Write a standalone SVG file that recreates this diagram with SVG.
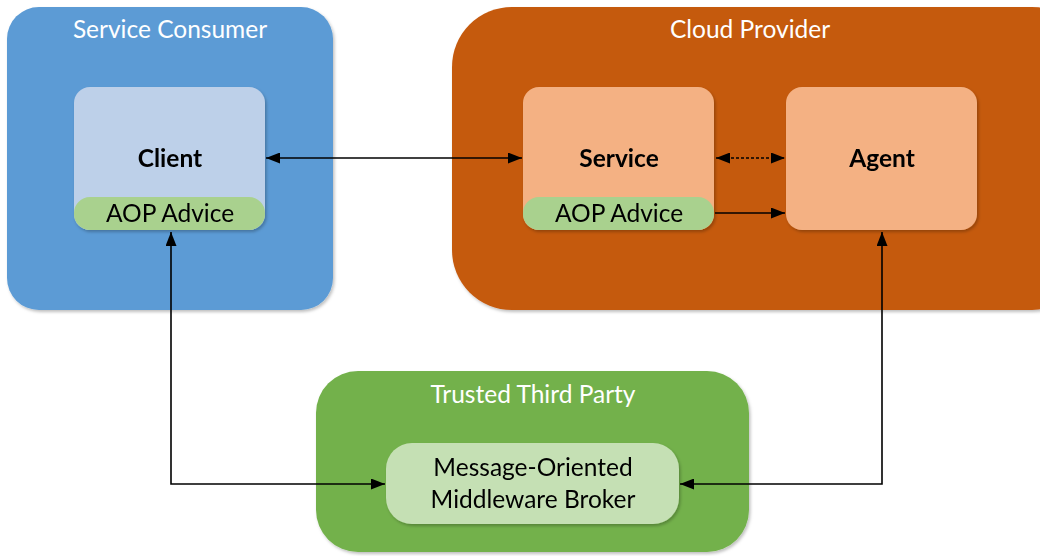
<svg xmlns="http://www.w3.org/2000/svg" width="1040" height="556" viewBox="0 0 1040 556">
  <defs>
    <style>
      .title { font-family: Lato, "Open Sans", "Liberation Sans", sans-serif; font-size: 24.5px; fill: #ffffff; text-anchor: middle; }
      .name { font-family: Lato, "Open Sans", "Liberation Sans", sans-serif; font-size: 24.5px; font-weight: bold; fill: #000000; text-anchor: middle; }
      .label { font-family: Lato, "Open Sans", "Liberation Sans", sans-serif; font-size: 24.5px; fill: #000000; text-anchor: middle; }
      .conn { fill: none; stroke: #000000; stroke-width: 1.6; }
      .dotted { stroke-dasharray: 3 2; }
      .advice { fill: #A9D18E; }
    </style>
    <filter id="shadow" x="-10%" y="-10%" width="125%" height="130%">
      <feDropShadow dx="1.5" dy="2" stdDeviation="1.5" flood-color="#000000" flood-opacity="0.25"/>
    </filter>
    <marker id="arrow" viewBox="0 0 14 11" refX="14" refY="5.5" markerWidth="14" markerHeight="11" markerUnits="userSpaceOnUse" orient="auto-start-reverse">
      <path d="M0,0 L14,5.5 L0,11 Z" fill="#000000"/>
    </marker>
  </defs>

  <!-- Service Consumer group -->
  <g id="service-consumer">
    <rect x="7" y="7" width="326" height="303" rx="32" fill="#5B9BD5" filter="url(#shadow)"/>
    <text class="title" x="170" y="38">Service Consumer</text>
  </g>

  <!-- Cloud Provider group -->
  <g id="cloud-provider">
    <rect x="452" y="7" width="640" height="303" rx="60" fill="#C55A11" filter="url(#shadow)"/>
    <text class="title" x="750" y="38">Cloud Provider</text>
  </g>

  <!-- Trusted Third Party group -->
  <g id="trusted-third-party">
    <rect x="316" y="371" width="433" height="181" rx="42" fill="#73B14B" filter="url(#shadow)"/>
    <text class="title" x="533" y="403">Trusted Third Party</text>
  </g>

  <!-- Client -->
  <g id="client" filter="url(#shadow)">
    <rect x="74" y="87" width="191" height="143" rx="16" fill="#BDD0E9"/>
    <rect class="advice" x="74" y="197" width="191" height="33" rx="16"/>
    <text class="name" x="170" y="167">Client</text>
    <text class="label" x="170" y="222">AOP Advice</text>
  </g>

  <!-- Service -->
  <g id="service" filter="url(#shadow)">
    <rect x="523" y="87" width="191" height="143" rx="16" fill="#F4B183"/>
    <rect class="advice" x="523" y="197" width="191" height="33" rx="16"/>
    <text class="name" x="619" y="167">Service</text>
    <text class="label" x="619" y="222">AOP Advice</text>
  </g>

  <!-- Agent -->
  <g id="agent" filter="url(#shadow)">
    <rect x="786" y="87" width="191" height="143" rx="16" fill="#F4B183"/>
    <text class="name" x="882" y="167">Agent</text>
  </g>

  <!-- Message-Oriented Middleware Broker -->
  <g id="broker" filter="url(#shadow)">
    <rect x="386" y="443" width="293" height="81" rx="26" fill="#C5E0B4"/>
    <text class="label" x="533" y="476">Message-Oriented</text>
    <text class="label" x="533" y="508">Middleware Broker</text>
  </g>

  <!-- Connectors -->
  <g id="connectors">
    <line class="conn" x1="266" y1="158" x2="522" y2="158" marker-start="url(#arrow)" marker-end="url(#arrow)"/>
    <line class="conn dotted" x1="716" y1="158" x2="785" y2="158" marker-start="url(#arrow)" marker-end="url(#arrow)"/>
    <line class="conn" x1="715" y1="213" x2="785" y2="213" marker-end="url(#arrow)"/>
    <polyline class="conn" points="171,232 171,484 385,484" marker-start="url(#arrow)" marker-end="url(#arrow)"/>
    <polyline class="conn" points="882,232 882,484 680,484" marker-start="url(#arrow)" marker-end="url(#arrow)"/>
  </g>
</svg>
